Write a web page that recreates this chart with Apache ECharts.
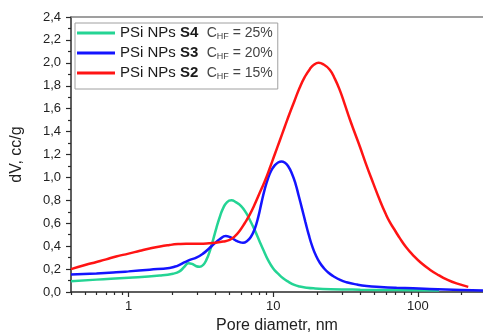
<!DOCTYPE html>
<html>
<head>
<meta charset="utf-8">
<script src="https://cdn.jsdelivr.net/npm/echarts@6/dist/echarts.min.js"></script>
<style>
  html, body { margin: 0; padding: 0; background: #fff; }
  #chart { width: 483px; height: 335px; }
</style>
</head>
<body>
<div id="chart"></div>
<script>
// Pore size distributions (dV vs pore diameter, nm) for three PSi NP samples
const s4Diam = [0.4, 0.6, 1.0, 1.64, 2.03, 2.25, 2.45, 2.6, 2.75, 2.94, 3.1, 3.27, 3.45, 3.65, 3.85, 4.05, 4.26, 4.5, 4.8, 5.14, 5.5, 6.0, 6.5, 6.88, 7.45, 8.0, 8.6, 9.2, 10.0, 10.8, 11.7, 12.7, 14, 15.25, 17, 19, 25, 40, 70, 140];
const s4Vals = [0.094, 0.108, 0.124, 0.144, 0.16, 0.18, 0.225, 0.252, 0.245, 0.225, 0.22, 0.235, 0.28, 0.36, 0.46, 0.56, 0.65, 0.73, 0.785, 0.80, 0.785, 0.75, 0.69, 0.63, 0.54, 0.45, 0.36, 0.28, 0.205, 0.16, 0.12, 0.09, 0.062, 0.048, 0.038, 0.032, 0.025, 0.02, 0.017, 0.014];

const s3Diam = [0.4, 0.6, 0.82, 1.0, 1.4, 1.92, 2.1, 2.25, 2.45, 2.65, 2.94, 3.27, 3.6, 3.9, 4.26, 4.7, 5.0, 5.27, 5.56, 5.87, 6.18, 6.6, 7.0, 7.45, 7.9, 8.3, 8.75, 9.2, 9.7, 10.24, 10.8, 11.4, 12.0, 12.66, 13.5, 14.3, 15.0, 15.8, 16.7, 17.6, 18.6, 19.7, 21, 22.5, 24, 25.9, 29, 32.1, 38, 44.2, 55, 71.2, 121, 200, 282];
const s3Vals = [0.152, 0.162, 0.172, 0.18, 0.195, 0.21, 0.222, 0.237, 0.26, 0.28, 0.30, 0.335, 0.38, 0.42, 0.46, 0.488, 0.48, 0.465, 0.447, 0.435, 0.43, 0.445, 0.48, 0.55, 0.66, 0.78, 0.90, 0.99, 1.06, 1.105, 1.13, 1.14, 1.13, 1.10, 1.03, 0.94, 0.84, 0.73, 0.61, 0.50, 0.40, 0.32, 0.255, 0.205, 0.17, 0.14, 0.105, 0.085, 0.065, 0.053, 0.044, 0.037, 0.027, 0.018, 0.012];

const s2Diam = [0.4, 0.5, 0.6, 0.7, 0.82, 1.0, 1.2, 1.4, 1.65, 1.92, 2.2, 2.5, 3.1, 3.6, 4.0, 4.5, 5.0, 5.42, 5.87, 6.35, 6.88, 7.45, 8.0, 8.73, 9.46, 10.24, 11.09, 12.0, 13.0, 14.0, 15.25, 16.5, 17.9, 19.2, 20.6, 22.3, 24.6, 26.7, 28.9, 31.2, 33.8, 36.6, 39.7, 44, 49.1, 54.6, 60, 64, 70, 75, 83, 92.8, 105, 121, 140, 158, 185, 223];
const s2Vals = [0.20, 0.235, 0.262, 0.285, 0.31, 0.335, 0.36, 0.38, 0.398, 0.41, 0.418, 0.422, 0.422, 0.425, 0.43, 0.44, 0.455, 0.485, 0.535, 0.60, 0.675, 0.765, 0.855, 0.965, 1.08, 1.20, 1.32, 1.44, 1.56, 1.665, 1.785, 1.875, 1.945, 1.985, 2.00, 1.985, 1.94, 1.86, 1.76, 1.64, 1.51, 1.39, 1.27, 1.11, 0.95, 0.80, 0.68, 0.61, 0.53, 0.47, 0.39, 0.32, 0.255, 0.195, 0.145, 0.11, 0.075, 0.045];

// Axis ticks (nm): labelled decades and the minor log ticks between them
const xMajorTicks = [1, 10, 100];
const xMinorTicks = [0.4, 0.5, 0.6, 0.7, 0.8, 0.9, 2, 3, 4, 5, 6, 7, 8, 9, 20, 30, 40, 50, 60, 70, 80, 90, 200];
const xMin = 0.4, xMax = 282;

const seriesNames = ['S4', 'S3', 'S2'];
const hfShares = ['25%', '20%', '15%'];
const seriesColors = ['#24d494', '#1414ff', '#ff1414'];

const lg = Math.log10;
const toPairs = (d, v) => d.map((x, i) => [lg(x), v[i]]);
const seriesData = [toPairs(s4Diam, s4Vals), toPairs(s3Diam, s3Vals), toPairs(s2Diam, s2Vals)];

const FONT = '"Liberation Sans", Arial, sans-serif';
const axisDark = '#2a2a2a';

const chart = echarts.init(document.getElementById('chart'), null, { renderer: 'canvas' });

const legendLabel = {};
seriesNames.forEach((n, i) => { legendLabel['PSi NPs ' + n] = i; });

chart.setOption({
  animation: false,
  backgroundColor: '#fff',
  grid: { left: 71, right: 0, top: 17, bottom: 43, show: false, outerBoundsMode: 'none', containLabel: false },
  legend: {
    orient: 'vertical',
    left: 75, top: 23,
    padding: [2, 5, 8, 2],
    itemGap: 4,
    itemWidth: 38, itemHeight: 3,
    icon: 'rect',
    borderColor: '#a0a0a0', borderWidth: 1,
    data: seriesNames.map(n => 'PSi NPs ' + n),
    formatter: name => {
      const i = legendLabel[name];
      return '{r|PSi NPs }{b|' + seriesNames[i] + '}{r|  }{c|C}{s|HF}{c| = ' + hfShares[i] + '}';
    },
    textStyle: {
      fontFamily: FONT,
      lineHeight: 16,
      rich: {
        r: { fontSize: 15, color: '#1a1a1a', fontFamily: FONT, lineHeight: 16 },
        b: { fontSize: 15, fontWeight: 'bold', color: '#1a1a1a', fontFamily: FONT, lineHeight: 16 },
        c: { fontSize: 14, color: '#444', fontFamily: FONT, lineHeight: 16 },
        s: { fontSize: 9, color: '#444', fontFamily: FONT, lineHeight: 16, verticalAlign: 'bottom', padding: [6, 0, 0, 0] }
      }
    }
  },
  xAxis: [
    {
      // labelled decade ticks
      type: 'value', position: 'bottom',
      min: lg(xMin), max: lg(xMax),
      splitLine: { show: false },
      axisLine: { show: true, onZero: false, lineStyle: { color: axisDark, width: 1.5 } },
      axisTick: { show: true, length: 5, lineStyle: { color: axisDark, width: 1.2 }, customValues: xMajorTicks.map(lg) },
      axisLabel: {
        show: true, margin: 8, color: '#222', fontSize: 13, fontFamily: FONT,
        customValues: xMajorTicks.map(lg),
        formatter: v => String(Math.round(Math.pow(10, v)))
      },
      name: 'Pore diametr, nm', nameLocation: 'middle', nameGap: 26,
      nameTextStyle: { fontSize: 16, color: '#222', fontFamily: FONT }
    },
    {
      // minor log ticks
      type: 'value', position: 'bottom',
      min: lg(xMin), max: lg(xMax),
      splitLine: { show: false },
      axisLine: { show: false, onZero: false },
      axisTick: { show: true, length: 3, lineStyle: { color: axisDark, width: 1.2 }, customValues: xMinorTicks.map(lg) },
      axisLabel: { show: false }
    },
    {
      // top frame line
      type: 'value', position: 'top',
      min: lg(xMin), max: lg(xMax),
      splitLine: { show: false },
      axisLine: { show: true, onZero: false, lineStyle: { color: '#808080', width: 1.5 } },
      axisTick: { show: false },
      axisLabel: { show: false }
    }
  ],
  yAxis: {
    type: 'value', min: 0, max: 2.4, interval: 0.2,
    splitLine: { show: false },
    axisLine: { show: true, onZero: false, lineStyle: { color: axisDark, width: 1.5 } },
    axisTick: { show: true, length: 5, lineStyle: { color: axisDark, width: 1.2 } },
    minorTick: { show: true, splitNumber: 2, length: 3, lineStyle: { color: axisDark, width: 1.2 } },
    axisLabel: {
      margin: 10, color: '#222', fontSize: 13, fontFamily: FONT,
      formatter: v => v.toFixed(1).replace('.', ',')
    },
    name: 'dV, cc/g', nameLocation: 'middle', nameGap: 46, nameRotate: 90,
    nameTextStyle: { fontSize: 16, color: '#222', fontFamily: FONT }
  },
  series: seriesNames.map((n, i) => ({
    name: 'PSi NPs ' + n,
    type: 'line',
    xAxisIndex: 0,
    data: seriesData[i],
    smooth: 0.5,
    showSymbol: false,
    symbol: 'none',
    color: seriesColors[i],
    lineStyle: { color: seriesColors[i], width: 2.5 },
    itemStyle: { color: seriesColors[i] }
  }))
});
</script>
</body>
</html>
